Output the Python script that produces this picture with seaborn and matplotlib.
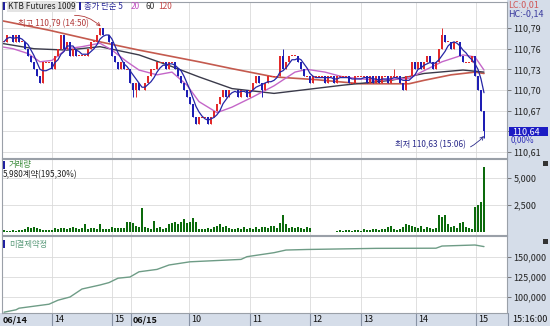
import numpy as np
import pandas as pd
import matplotlib
matplotlib.use('Agg')
import matplotlib.pyplot as plt
import matplotlib.transforms as mtransforms
from matplotlib.patches import Rectangle
import seaborn as sns

# ---------------- data ----------------
first_open = 110.77
closes = [
    110.77, 110.78, 110.78, 110.77, 110.78, 110.77, 110.77, 110.76, 110.75, 110.74,
    110.73, 110.72, 110.71, 110.74, 110.74, 110.74, 110.73, 110.75, 110.76, 110.78,
    110.76, 110.77, 110.75, 110.76, 110.75, 110.75, 110.75, 110.75, 110.76, 110.77,
    110.77, 110.78, 110.79, 110.78, 110.78, 110.77, 110.75, 110.74, 110.73, 110.74,
    110.73, 110.73, 110.71, 110.70, 110.71, 110.70, 110.70, 110.71, 110.72, 110.73,
    110.73, 110.74, 110.74, 110.74, 110.73, 110.74, 110.74, 110.73, 110.72, 110.71,
    110.70, 110.69, 110.68, 110.66, 110.65, 110.66, 110.66, 110.66, 110.65, 110.66,
    110.67, 110.68, 110.69, 110.70, 110.69, 110.70, 110.70, 110.70, 110.69, 110.70,
    110.70, 110.69, 110.70, 110.71, 110.72, 110.71, 110.70, 110.71, 110.72, 110.72,
    110.72, 110.72, 110.75, 110.73, 110.74, 110.75, 110.75, 110.75, 110.74, 110.73,
    110.72, 110.72, 110.71, 110.72, 110.72, 110.72, 110.72, 110.71, 110.72, 110.72,
    110.71, 110.72, 110.72, 110.72, 110.72, 110.71, 110.71, 110.72, 110.72, 110.72,
    110.72, 110.71, 110.72, 110.71, 110.72, 110.71, 110.72, 110.72, 110.71, 110.72,
    110.72, 110.72, 110.71, 110.70, 110.72, 110.72, 110.74, 110.73, 110.74, 110.73,
    110.74, 110.75, 110.74, 110.73, 110.74, 110.76, 110.78, 110.77, 110.77, 110.76,
    110.77, 110.77, 110.75, 110.74, 110.74, 110.74, 110.75, 110.72, 110.70, 110.67,
    110.64,
]
wick_high = {93: 110.76, 130: 110.73, 146: 110.79}
wick_low = {43: 110.69, 44: 110.69, 86: 110.69, 160: 110.63}

volume = [
    150, 100, 120, 150, 100, 200, 150, 250, 450, 350,
    500, 400, 300, 200, 150, 150, 200, 350, 300, 400,
    350, 300, 400, 450, 350, 300, 400, 700, 300, 350,
    400, 300, 700, 300, 250, 300, 450, 350, 400, 400,
    350, 900, 900, 850, 600, 500, 2200, 500, 400, 300,
    1000, 400, 500, 300, 400, 700, 800, 900, 700, 900,
    1200, 800, 900, 1300, 900, 300, 250, 300, 400, 250,
    500, 600, 700, 500, 550, 400, 300, 300, 400, 300,
    500, 250, 350, 300, 450, 300, 500, 450, 350, 600,
    550, 400, 800, 1600, 700, 400, 450, 350, 500, 400,
    300, 500, 350, 0, 0, 0, 0, 0, 0, 0,
    0, 100, 150, 100, 200, 150, 100, 200, 150, 100,
    250, 150, 200, 300, 250, 200, 300, 250, 500, 600,
    300, 200, 300, 500, 700, 650, 600, 500, 400, 600,
    300, 500, 400, 300, 350, 1600, 1400, 1600, 700, 500,
    600, 400, 800, 950, 500, 400, 300, 2300, 2500, 2800,
    5980,
]

ma20_pos = [-1, 3, 8, 12, 16, 21, 26, 32, 36, 41, 45, 51, 56, 61, 65, 71, 76, 83, 90,
            97, 101, 107, 113, 124, 135, 140, 146, 153, 157, 160]
ma20_val = [110.763, 110.760, 110.753, 110.741, 110.743, 110.760, 110.763, 110.768,
            110.758, 110.741, 110.729, 110.722, 110.726, 110.707, 110.683, 110.667,
            110.675, 110.690, 110.706, 110.726, 110.730, 110.726, 110.719, 110.714,
            110.717, 110.728, 110.741, 110.751, 110.748, 110.729]
ma60_pos = [-1, 10, 21, 32, 45, 56, 65, 76, 90, 113, 129, 140, 153, 160]
ma60_val = [110.768, 110.760, 110.758, 110.763, 110.751, 110.734, 110.719, 110.702,
            110.695, 110.707, 110.714, 110.724, 110.729, 110.726]
ma120_pos = [-1, 15, 32, 45, 65, 76, 90, 104, 119, 135, 140, 149, 157, 160]
ma120_val = [110.801, 110.787, 110.770, 110.758, 110.741, 110.731, 110.719, 110.715,
             110.709, 110.709, 110.714, 110.722, 110.726, 110.724]

oi_pos = [0, 4, 5, 15, 18, 22, 26, 32, 35, 38, 42, 45, 51, 55, 62, 79, 81, 90, 94,
          101, 124, 144, 146, 157, 160]
oi_val = [81000, 84000, 86000, 91000, 96000, 100000, 110000, 115000, 118000, 123500,
          125000, 131500, 134500, 140000, 144000, 147000, 150400, 155400, 158700,
          159400, 160800, 161000, 163700, 165000, 163000]

time_pos = [16, 36, 42.2, 61.7, 82, 102, 119, 137.3, 157.3]
time_labels = ['14', '15', '06/15', '10', '11', '12', '13', '14', '15']
time_bold = [False, False, True, False, False, False, False, False, False]
first_label = '06/14'
last_label = '15:16:00'

price_ticks = [110.61, 110.64, 110.67, 110.70, 110.73, 110.76, 110.79]
vol_ticks = [2500, 5000]
oi_ticks = [100000, 125000, 150000]

# ---------------- style ----------------
sns.set_style('white')
plt.rcParams['font.family'] = ['Noto Sans CJK KR', 'DejaVu Sans']
plt.rcParams['axes.unicode_minus'] = False

W, H = 550, 326
fig = plt.figure(figsize=(5.5, 3.26), dpi=100)
fig.patch.set_facecolor('white')


def fx(px):
    return px / W


def fy(py):
    return 1 - py / H


side_bg = '#d5dde9'
grid_c = '#dadada'
spine_c = '#9aa0a8'
up_c = '#e22a2a'
dn_c = '#1e1eb4'

fig.add_artist(Rectangle((fx(507), 0), 1 - fx(507), 1, transform=fig.transFigure,
                         facecolor=side_bg, edgecolor='none', zorder=-1))
fig.add_artist(Rectangle((0, 0), 1, fy(313), transform=fig.transFigure,
                         facecolor=side_bg, edgecolor='none', zorder=-1))


def add_panel(top, bottom):
    return fig.add_axes([fx(2), fy(bottom), fx(507) - fx(2), fy(top) - fy(bottom)])


ax1 = add_panel(2, 158)
ax2 = add_panel(159, 235)
ax3 = add_panel(236, 313)

XMIN, XMAX = -0.67, 167.67

# ---------------- price panel ----------------
n = len(closes)
idx = np.arange(n)
c = np.array(closes)
o = np.array([first_open] + closes[:-1])
hi = np.maximum(o, c)
lo = np.minimum(o, c)
for k, v in wick_high.items():
    hi[k] = v
for k, v in wick_low.items():
    lo[k] = v
cols = [up_c if cc >= oo else dn_c for oo, cc in zip(o, c)]
body_h = np.abs(c - o)
flat = body_h < 1e-9
body_b = np.where(flat, c - 0.0006, np.minimum(o, c))
body_h = np.where(flat, 0.0012, body_h)

ax1.vlines(idx, lo, hi, colors=cols, lw=0.7, zorder=3)
ax1.bar(idx, body_h, bottom=body_b, width=0.72, color=cols, linewidth=0, zorder=3)

ma5 = pd.Series(closes).rolling(5, min_periods=1).mean()
sns.lineplot(x=ma120_pos, y=ma120_val, ax=ax1, color='#c45a4e', linewidth=1.2, zorder=2)
sns.lineplot(x=ma60_pos, y=ma60_val, ax=ax1, color='#3a3a4a', linewidth=1.0, zorder=2)
sns.lineplot(x=ma20_pos, y=ma20_val, ax=ax1, color='#c466c8', linewidth=1.0, zorder=2)
sns.lineplot(x=idx, y=ma5.values, ax=ax1, color='#2626a6', linewidth=0.9, zorder=4)

ax1.set_ylim(110.601, 110.828)
ax1.set_yticks(price_ticks)
ax1.set_yticklabels([('' if abs(t - 110.64) < 1e-6 else f'{t:.2f}'.replace('.', ','))
                     for t in price_ticks])

ax1.annotate('최고 110,79 (14:50)', xy=(32.2, 110.7925), xytext=(28.3, 110.797),
             ha='right', va='center', fontsize=6, color='#b23a3a',
             arrowprops=dict(arrowstyle='->', color='#b23a3a', lw=0.6,
                             connectionstyle='arc3,rad=-0.4', shrinkA=1, shrinkB=0))
ax1.annotate('최저 110,63 (15:06)', xy=(160, 110.633), xytext=(154, 110.621),
             ha='right', va='center', fontsize=6, color='#2a2a8a',
             arrowprops=dict(arrowstyle='->', color='#2a2a8a', lw=0.6,
                             connectionstyle='arc3,rad=0.4', shrinkA=1, shrinkB=0))

# ---------------- volume panel ----------------
sns.barplot(x=idx, y=volume, ax=ax2, native_scale=True, color='#0c6a0c',
            width=0.95, errorbar=None, saturation=1, linewidth=0)
ax2.set_ylim(-278, 6760)
ax2.set_yticks(vol_ticks)
ax2.set_yticklabels([f'{t:,}' for t in vol_ticks])

# ---------------- open interest panel ----------------
sns.lineplot(x=oi_pos, y=oi_val, ax=ax3, color='#6e9c86', linewidth=1.0)
ax3.set_ylim(80000, 176250)
ax3.set_yticks(oi_ticks)
ax3.set_yticklabels([f'{t:,}' for t in oi_ticks])

for ax in (ax1, ax2, ax3):
    ax.set_facecolor('white')
    ax.set_xlim(XMIN, XMAX)
    ax.set_xticks(time_pos)
    ax.set_xlabel('')
    ax.set_ylabel('')
    ax.grid(True, color=grid_c, lw=0.6)
    ax.set_axisbelow(True)
    ax.yaxis.tick_right()
    ax.tick_params(axis='x', length=0, labelbottom=False)
    ax.tick_params(axis='y', direction='out', length=3, width=0.6, color='#666666',
                   pad=1.5, labelsize=6.5, labelcolor='#222222',
                   labelright=True, labelleft=False)
    for s in ax.spines.values():
        s.set_color(spine_c)
        s.set_linewidth(0.8)

# ---------------- right-side extras ----------------
fig.add_artist(Rectangle((fx(509), fy(136)), fx(39), 9 / H, transform=fig.transFigure,
                         facecolor='#1c1cc4', edgecolor='none', zorder=5))
fig.text(fx(512), fy(131.5), '110,64', color='white', fontsize=6.5, va='center', zorder=6)
fig.text(fx(511), fy(140), '0,00%', color='#3434b8', fontsize=6, va='center')
fig.text(fx(508), fy(5), 'LC:0,01', color='#d05858', fontsize=6.5, va='center')
fig.text(fx(508), fy(14), 'HC:-0,14', color='#3a3a9e', fontsize=6.5, va='center')
for yy in (161, 239):
    fig.add_artist(Rectangle((fx(543), fy(yy + 5)), fx(5), 5 / H, transform=fig.transFigure,
                             facecolor='#333333', edgecolor='none', zorder=5))

# ---------------- headers ----------------
def marker(xp, yp):
    fig.add_artist(Rectangle((fx(xp), fy(yp + 8)), fx(2), 8 / H, transform=fig.transFigure,
                             facecolor='#2020a0', edgecolor='none', zorder=5))


marker(3, 2)
fig.text(fx(8), fy(6.5), 'KTB Futures 1009', fontsize=6, color='#222222', va='center',
         bbox=dict(facecolor='#e4e4e4', edgecolor='none', pad=0.6))
marker(79, 2)
fig.text(fx(84), fy(6.5), '종가 단순 5', fontsize=6, color='#2a2a9a', va='center')
fig.text(fx(131), fy(6.5), '20', fontsize=6, color='#c050c0', va='center')
fig.text(fx(145), fy(6.5), '60', fontsize=6, color='#333333', va='center')
fig.text(fx(158), fy(6.5), '120', fontsize=6, color='#c44848', va='center')

marker(3, 161)
fig.text(fx(9), fy(165), '거래량', fontsize=6, color='#3c8c3c', va='center')
fig.text(fx(3), fy(174.5), '5,980계약(195,30%)', fontsize=6, color='#222222', va='center')
marker(3, 240)
fig.text(fx(9), fy(244), '미결제약정', fontsize=6, color='#5b9b7b', va='center')

# ---------------- time strip ----------------
trans = mtransforms.blended_transform_factory(ax3.transData, fig.transFigure)
trans_txt = mtransforms.offset_copy(trans, fig=fig, x=2, y=0, units='dots')
sep_c = '#8792a4'
for p, lab, b in zip(time_pos, time_labels, time_bold):
    ax3.plot([p, p], [fy(313), fy(326)], transform=trans, clip_on=False,
             color=sep_c, lw=0.8)
    ax3.text(p, fy(320), lab, transform=trans_txt, fontsize=6.5, va='center', ha='left',
             fontweight='bold' if b else 'normal', color='#111111', clip_on=False)
fig.text(fx(3), fy(320), first_label, fontsize=6.5, va='center', fontweight='bold',
         color='#111111')
fig.add_artist(plt.Line2D([fx(508), fx(508)], [fy(313), fy(326)], transform=fig.transFigure,
                          color=sep_c, lw=0.8))
fig.text(fx(512), fy(320), last_label, fontsize=6.5, va='center', color='#111111')

fig.savefig('out.png', dpi=100, facecolor=fig.get_facecolor())
